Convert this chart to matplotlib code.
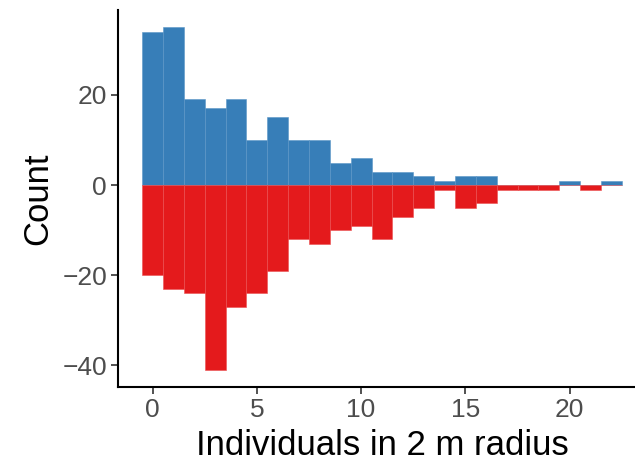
import matplotlib
matplotlib.use("Agg")
import matplotlib.pyplot as plt
import numpy as np

plt.rcParams['font.family'] = ['Liberation Sans', 'DejaVu Sans']

# counts per neighbour number (bins of width 1, centred on integers)
individuals = np.arange(0, 23)
count_pos = [34, 35, 19, 17, 19, 10, 15, 10, 10, 5, 6, 3, 3, 2, 1, 2, 2, 0, 0, 0, 1, 0, 1]
count_neg = [-20, -23, -24, -41, -27, -24, -19, -12, -13, -10, -9, -12, -7, -5, -1, -5, -4, -1, -1, -1, 0, -1, 0]

blue = '#377EB8'
red = '#E41A1C'

fig = plt.figure(figsize=(6.35, 4.65), dpi=100)
ax = fig.add_axes([0.186, 0.168, 0.831, 0.81])

ax.bar(individuals, count_pos, width=1.0, color=blue, edgecolor='#5b95c6', linewidth=0.4)
ax.bar(individuals, count_neg, width=1.0, color=red, edgecolor='#ea4f50', linewidth=0.4)

ax.set_xlim(-1.65, 23.65)
ax.set_ylim(-44.8, 38.8)
ax.set_xticks([0, 5, 10, 15, 20])
ax.set_yticks([-40, -20, 0, 20])
ax.set_yticklabels(['\u221240', '\u221220', '0', '20'])

for side in ['top', 'right']:
    ax.spines[side].set_visible(False)
for side in ['left', 'bottom']:
    ax.spines[side].set_linewidth(1.5)
    ax.spines[side].set_color('black')

ax.tick_params(axis='both', colors='#333333', labelcolor='#4D4D4D',
               labelsize=19, length=5, width=1.2, pad=3)

ax.set_xlabel('Individuals in 2 m radius', fontsize=25, labelpad=5)
ax.set_ylabel('Count', fontsize=25, labelpad=6)

fig.savefig('out.png', dpi=100)
